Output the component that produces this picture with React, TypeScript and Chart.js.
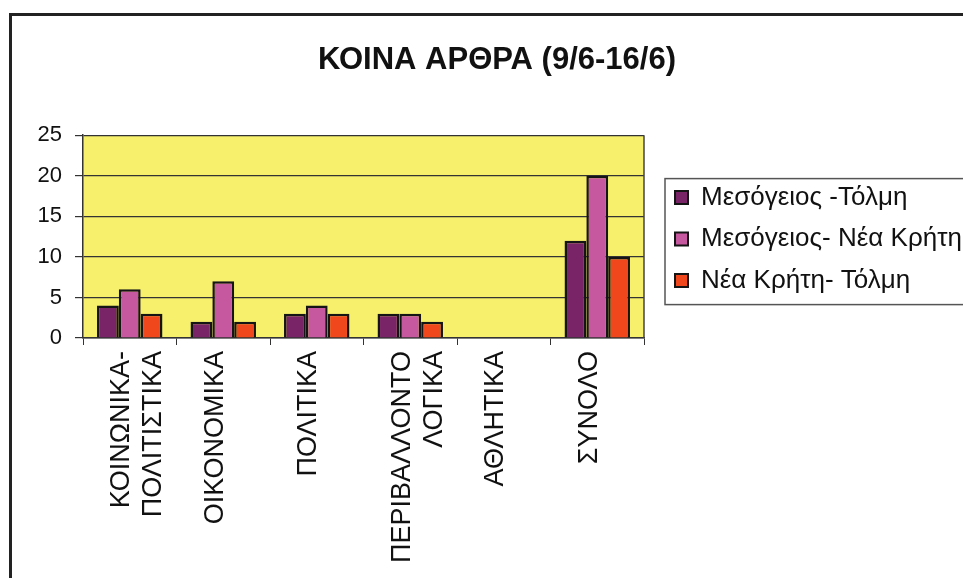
import React, { useEffect, useRef } from "react";
import { Chart, registerables } from "chart.js";

Chart.register(...registerables);

const categories: (string | string[])[] = [
  ["ΚΟΙΝΩΝΙΚΑ-", "ΠΟΛΙΤΙΣΤΙΚΑ"],
  "ΟΙΚΟΝΟΜΙΚΑ",
  "ΠΟΛΙΤΙΚΑ",
  ["ΠΕΡΙΒΑΛΛΟΝΤΟ", "ΛΟΓΙΚΑ"],
  "ΑΘΛΗΤΙΚΑ",
  "ΣΥΝΟΛΟ",
];
const mesogeiosTolmi = [4, 2, 3, 3, 0, 12];
const mesogeiosNeaKriti = [6, 7, 4, 3, 0, 20];
const neaKritiTolmi = [3, 2, 3, 2, 0, 10];
const seriesNames = ["Μεσόγειος -Τόλμη", "Μεσόγειος- Νέα Κρήτη", "Νέα Κρήτη- Τόλμη"];
const seriesColors = ["#7a2468", "#c6589f", "#f0481c"];
const titleText = "ΚΟΙΝΑ ΑΡΘΡΑ (9/6-16/6)";
const yMax = 25;
const yStep = 5;

const FONT = "'Liberation Sans', Arial, sans-serif";

const bgPlugin = {
  id: "plotBg",
  afterLayout(chart: any) {
    const t = chart.titleBlock;
    if (t) {
      t.left += 28;
      t.right += 28;
    }
    const lg = chart.legend;
    if (lg) {
      lg.left += 15.5;
      lg.right = 990;
      lg.width = lg.right - lg.left;
      lg.top += 2.5;
      lg.bottom += 2.5;
    }
  },
  beforeDraw(chart: any) {
    const { ctx, chartArea } = chart;
    ctx.save();
    ctx.fillStyle = "#f6f06c";
    ctx.fillRect(chartArea.left, chartArea.top, chartArea.right - chartArea.left, chartArea.bottom - chartArea.top);
    ctx.restore();
  },
  afterDraw(chart: any) {
    const { ctx, chartArea } = chart;
    ctx.save();
    ctx.strokeStyle = "#444";
    ctx.lineWidth = 1.5;
    ctx.beginPath();
    ctx.moveTo(chartArea.right, chartArea.top);
    ctx.lineTo(chartArea.right, chartArea.bottom);
    ctx.stroke();
    const lg = chart.legend;
    if (lg && lg.legendHitBoxes && lg.legendHitBoxes.length) {
      const hb = lg.legendHitBoxes;
      const first = hb[0];
      const last = hb[hb.length - 1];
      const c0 = first.top + first.height / 2;
      const c1 = last.top + last.height / 2;
      const x0 = first.left - 10;
      const y0 = c0 - 19;
      const y1 = c1 + 24;
      ctx.strokeStyle = "#555";
      ctx.lineWidth = 1.5;
      ctx.strokeRect(x0, y0, 975 - x0, y1 - y0);
    }
    ctx.restore();
  },
};

export default function App() {
  const ref = useRef<HTMLCanvasElement>(null);
  useEffect(() => {
    if (!ref.current) return;
    const chart = new Chart(ref.current, {
      type: "bar",
      data: {
        labels: categories,
        datasets: [mesogeiosTolmi, mesogeiosNeaKriti, neaKritiTolmi].map((d, i) => ({
          label: seriesNames[i],
          data: d,
          backgroundColor: seriesColors[i],
          borderColor: "#151515",
          borderWidth: 2.5,
          borderSkipped: "bottom",
          categoryPercentage: 0.7,
          barPercentage: 1.0,
        })),
      },
      options: {
        animation: false,
        responsive: false,
        maintainAspectRatio: false,
        layout: { padding: { left: 14, right: 39, top: 0, bottom: 0 } },
        plugins: {
          title: {
            display: true,
            text: titleText,
            color: "#111",
            font: { family: FONT, size: 31, weight: "bold" },
            padding: { top: 42, bottom: 56 },
          },
          legend: {
            position: "right",
            fullSize: false,
            maxWidth: 280,
            labels: {
              color: "#111",
              font: { family: FONT, size: 26 },
              boxWidth: 13,
              boxHeight: 13,
              padding: 15.5,
              generateLabels(chart: any) {
                return chart.data.datasets.map((ds: any, i: number) => ({
                  text: ds.label,
                  fillStyle: seriesColors[i],
                  strokeStyle: "#151515",
                  lineWidth: 2,
                  hidden: false,
                  datasetIndex: i,
                  fontColor: "#111",
                }));
              },
            },
          },
          tooltip: { enabled: false },
        },
        scales: {
          x: {
            grid: { display: true, drawOnChartArea: false, color: "#333", tickLength: 7, offset: true },
            border: { color: "#333", width: 1.5 },
            ticks: {
              color: "#111",
              font: { family: FONT, size: 27, lineHeight: 1.18 },
              minRotation: 90,
              maxRotation: 90,
              autoSkip: false,
              padding: 6,
              labelOffset: -8,
            },
            afterFit(scale: any) {
              scale.height = 240;
            },
          },
          y: {
            min: 0,
            max: yMax,
            ticks: {
              stepSize: yStep,
              color: "#111",
              font: { family: FONT, size: 22 },
              padding: 13,
            },
            grid: { color: "#333", lineWidth: 1.2, tickLength: 8 },
            border: { color: "#333", width: 1.5 },
            afterFit(scale: any) {
              scale.width = 69;
            },
          },
        },
      },
      plugins: [bgPlugin],
    });
    return () => chart.destroy();
  }, []);
  return (
    <div style={{ position: "fixed", left: 0, top: 0, width: 963, height: 578, background: "#fff", overflow: "hidden" }}>
      <div
        style={{
          position: "absolute",
          left: 9,
          top: 13,
          width: 960,
          height: 600,
          borderLeft: "3px solid #222",
          borderTop: "3px solid #222",
        }}
      />
      <canvas ref={ref} width={963} height={578} style={{ position: "absolute", left: 0, top: 0, display: "block" }} />
    </div>
  );
}
